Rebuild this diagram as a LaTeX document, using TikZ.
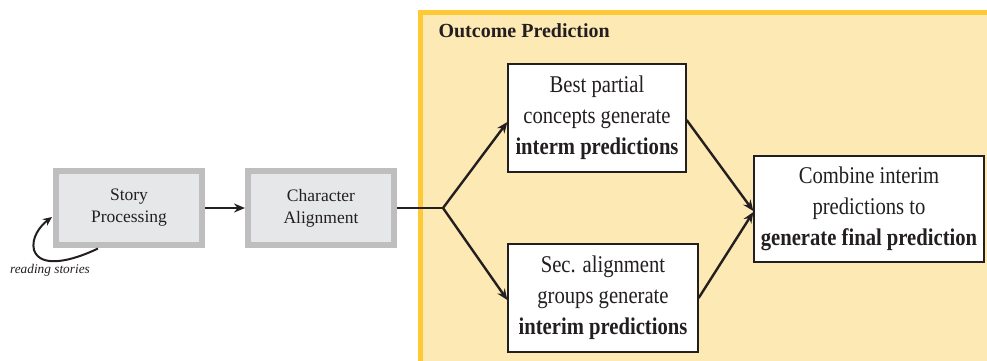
\documentclass[tikz,border=0pt]{standalone}
\usepackage{fontspec}
\setmainfont{Liberation Serif}
\newfontfamily\narrowserif[FakeStretch=0.86]{Liberation Serif}
\usetikzlibrary{arrows.meta}
\definecolor{panelfill}{HTML}{FDE9B3}
\definecolor{panelline}{HTML}{FFC935}
\definecolor{greyline}{HTML}{BEBEBE}
\definecolor{greyfill}{HTML}{E6E7E9}
\definecolor{ink}{HTML}{231F20}
\tikzset{
  stagebox/.style={draw=greyline, line width=6pt, fill=greyfill, minimum width=146pt,
    minimum height=74pt, align=center, inner sep=0pt, font=\fontsize{17.5}{22}\selectfont, text=ink},
  predbox/.style={draw=ink, line width=1.3pt, fill=white, align=center, inner sep=0pt,
    font=\narrowserif\fontsize{24}{31}\selectfont, text=ink},
  flow/.style={draw=ink, line width=2.4pt, -{Stealth[length=11pt,width=9pt]}},
  plainline/.style={draw=ink, line width=2.4pt}
}
\begin{document}
\begin{tikzpicture}[x=1pt,y=-1pt]
  \useasboundingbox (0,0) rectangle (987,360);
  \clip (0,0) rectangle (987,360);
  % outcome prediction panel (runs past the right and bottom edges)
  \draw[draw=panelline, fill=panelfill, line width=5pt] (420.5,12.5) rectangle (1010,385);
  \node[anchor=west, font=\fontsize{20}{22}\selectfont\bfseries, text=ink] (paneltitle) at (435,31) {Outcome Prediction};

  % input stages
  \node[stagebox] (story) at (129,208) {Story\\Processing};
  \node[stagebox] (align) at (321,208) {Character\\Alignment};

  % prediction boxes
  \node[predbox, minimum width=178pt, minimum height=108pt] (best) at (597,118)
    {Best partial\\concepts generate\\\textbf{interm predictions}};
  \node[predbox, minimum width=190pt, minimum height=108pt] (sec) at (603,298)
    {Sec. alignment\\groups generate\\\textbf{interim predictions}};
  \node[predbox, minimum width=230pt, minimum height=106pt] (final) at (869,209)
    {Combine interim\\predictions to\\\textbf{generate final prediction}};

  % reading input
  \node[font=\fontsize{13.3}{14}\selectfont\itshape, text=ink] (reading) at (50,270) {reading stories};
  \coordinate (readstart) at (98,248.5);
  \draw[flow, line width=2pt, -{Stealth[length=9pt,width=8pt]}] (readstart)
    .. controls (70,262) and (40,268) .. (34,250)
    .. controls (31,238) and (40,226) .. (52,217);

  % connectors
  \draw[flow] (story) -- (align);
  \coordinate (split) at (443,208);
  \draw[plainline] (align.east) -- (split);
  \draw[flow] (split) -- (best.west |- 0,122);
  \draw[flow] (split) -- (sec.west |- 0,300);
  \draw[flow] (best.east |- 0,120) -- (final.west |- 0,211);
  \draw[flow] (sec.east |- 0,298) -- (final.west |- 0,212);
\end{tikzpicture}
\end{document}
